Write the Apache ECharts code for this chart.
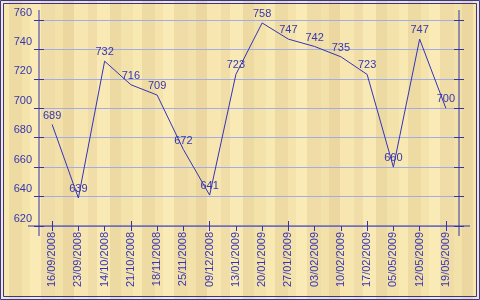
<!DOCTYPE html>
<html>
<head>
<meta charset="utf-8">
<script src="https://cdn.jsdelivr.net/npm/echarts@6/dist/echarts.min.js"></script>
<style>
html,body{margin:0;padding:0;}
#c{width:480px;height:300px;
background-color:#f4e2aa;
background-image:repeating-linear-gradient(90deg,
 #f8e8b2 0px,#f8e8b2 9px,
 #eedaa3 9px,#eedaa3 22px,
 #f5e3ac 22px,#f5e3ac 30px,
 #faebb6 30px,#faebb6 41px,
 #efdca6 41px,#efdca6 55px,
 #f3e1aa 55px,#f3e1aa 63px,
 #ecd7a0 63px,#ecd7a0 74px,
 #f7e6b0 74px,#f7e6b0 88px,
 #f0dda7 88px,#f0dda7 97px,
 #f9e9b4 97px,#f9e9b4 110px,
 #edd9a2 110px,#edd9a2 121px,
 #f4e2ab 121px,#f4e2ab 133px);
}
</style>
</head>
<body>
<div id="c"></div>
<script>
var categories = ['16/09/2008','23/09/2008','14/10/2008','21/10/2008','18/11/2008','25/11/2008','09/12/2008','13/01/2009','20/01/2009','27/01/2009','03/02/2009','10/02/2009','17/02/2009','05/05/2009','12/05/2009','19/05/2009'];
var values = [689, 639, 732, 716, 709, 672, 641, 723, 758, 747, 742, 735, 723, 660, 747, 700];
var yMin = 620, yMax = 760, yStep = 20;

var W = 480, H = 300;
var G = {left: 39, right: 21, top: 20, bottom: 74};
var gx0 = G.left, gx1 = W - G.right, gy0 = G.top, gy1 = H - G.bottom;
var axisColor = '#3434a8';
var textColor = '#3636b0';
var font = 'Liberation Sans';

var chart = echarts.init(document.getElementById('c'), null, {renderer: 'canvas'});

function yAx(pos, inside, labels, grid) {
  return {
    type: 'value', position: pos, min: yMin, max: yMax, interval: yStep,
    axisLine: {show: false},
    axisTick: {show: true, inside: inside, length: 5, lineStyle: {color: axisColor, width: 1}},
    axisLabel: labels ? {show: true, color: textColor, fontFamily: font, fontSize: 11, margin: 7,
      verticalAlign: 'bottom', padding: [0,0,2,0]} : {show: false},
    splitLine: grid ? {show: true, lineStyle: {color: '#a4ace8', width: 1}} : {show: false}
  };
}
function xAx(inside, labels) {
  return {
    type: 'category', data: categories, position: 'bottom', boundaryGap: true,
    axisLine: {show: false, onZero: false},
    axisTick: {show: true, inside: inside, length: 5, alignWithLabel: true, lineStyle: {color: axisColor, width: 1}},
    axisLabel: labels ? {show: true, rotate: 90, color: textColor, fontFamily: font, fontSize: 11, margin: 6, interval: 0} : {show: false},
    splitLine: {show: false}
  };
}

chart.setOption({
  backgroundColor: 'transparent',
  animation: false,
  grid: {left: G.left, right: G.right, top: G.top, bottom: G.bottom, containLabel: false},
  xAxis: [xAx(false, true), xAx(true, false)],
  yAxis: [yAx('left', false, true, true), yAx('left', true, false, false), yAx('right', false, false, false), yAx('right', true, false, false)],
  series: [{
    type: 'line', data: values, xAxisIndex: 0, yAxisIndex: 0,
    showSymbol: true, symbol: 'circle', symbolSize: 1,
    itemStyle: {color: 'rgba(0,0,0,0)', borderWidth: 0},
    lineStyle: {color: '#3333bb', width: 1},
    label: {show: true, position: 'top', distance: 3, color: textColor, fontFamily: font, fontSize: 11}
  }],
  graphic: [
    {type: 'rect', shape: {x: 0.5, y: 0.5, width: W - 1, height: H - 1}, style: {fill: null, stroke: axisColor, lineWidth: 1}, silent: true},
    {type: 'rect', shape: {x: 3.5, y: 3.5, width: W - 7, height: H - 7}, style: {fill: null, stroke: axisColor, lineWidth: 1}, silent: true},
    {type: 'line', shape: {x1: gx0, y1: gy0 - 10, x2: gx0, y2: gy1 + 10}, style: {stroke: axisColor, lineWidth: 1}, silent: true, z: 10},
    {type: 'line', shape: {x1: gx1, y1: gy0 - 10, x2: gx1, y2: gy1 + 10}, style: {stroke: axisColor, lineWidth: 1}, silent: true, z: 10},
    {type: 'line', shape: {x1: gx0 - 11, y1: gy1, x2: gx1 + 11, y2: gy1}, style: {stroke: axisColor, lineWidth: 1}, silent: true, z: 10}
  ]
});
</script>
</body>
</html>
